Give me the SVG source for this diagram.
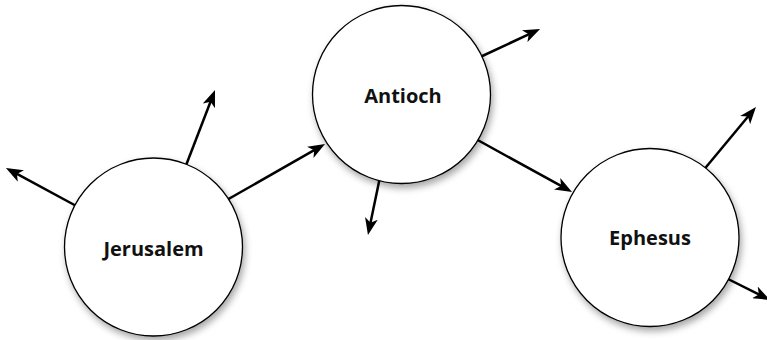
<svg xmlns="http://www.w3.org/2000/svg" width="767" height="340" viewBox="0 0 767 340">
<style>
.conn line{stroke:#000;stroke-width:2.5;fill:none;marker-end:url(#ah)}
.node circle{fill:#fff;stroke:#000;stroke-width:1.3;filter:url(#sh)}
.node text{font-family:"Open Sans","Liberation Sans",sans-serif;font-weight:bold;font-size:20px;text-anchor:middle;fill:#111}
</style>
<defs>
<marker id="ah" markerUnits="userSpaceOnUse" markerWidth="17" markerHeight="13" viewBox="0 0 17 13" refX="5" refY="6.5" orient="auto">
<path d="M0,0 L17,6.5 L0,13 L4.5,6.5 Z" fill="#000"/>
</marker>
<filter id="sh" x="-20%" y="-20%" width="150%" height="150%">
<feDropShadow dx="2" dy="4" stdDeviation="3.5" flood-color="#000" flood-opacity="0.35"/>
</filter>
</defs>
<rect width="767" height="340" fill="#fff"/>
<g id="connectors" class="conn">
<line x1="80" y1="208" x2="16.5" y2="173.7"/>
<line x1="185" y1="168" x2="210.7" y2="101.2"/>
<line x1="225" y1="201" x2="314.6" y2="149.9"/>
<line x1="478" y1="58" x2="529.2" y2="34.1"/>
<line x1="380" y1="177" x2="370.4" y2="223.3"/>
<line x1="474" y1="138" x2="561.5" y2="186.2"/>
<line x1="702" y1="172" x2="748.3" y2="116.2"/>
<line x1="724" y1="277" x2="759.3" y2="294.6"/>
</g>
<g id="jerusalem" class="node">
<circle cx="153.5" cy="247" r="89"/>
<text x="153.5" y="256">Jerusalem</text>
</g>
<g id="antioch" class="node">
<circle cx="401.5" cy="94.5" r="89"/>
<text x="403" y="103">Antioch</text>
</g>
<g id="ephesus" class="node">
<circle cx="650" cy="237.5" r="89"/>
<text x="650" y="245">Ephesus</text>
</g>
</svg>
